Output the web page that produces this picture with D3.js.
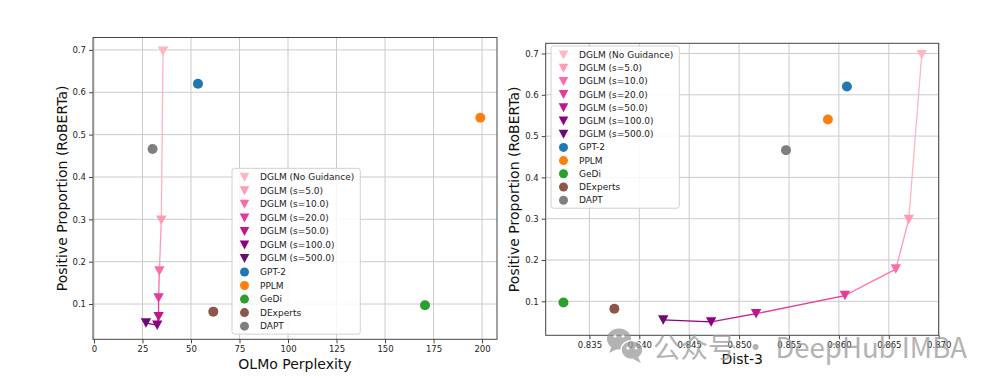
<!DOCTYPE html>
<html><head><meta charset="utf-8">
<script src="https://cdn.jsdelivr.net/npm/d3@7"></script>
<style>
html,body{margin:0;padding:0;background:#fff;}
svg{display:block;font-family:"DejaVu Sans",sans-serif;}
</style></head>
<body><svg id="chart" width="997" height="388"></svg>
<script>
// ---- data ----
const dglmLabels = ['DGLM (No Guidance)','DGLM (s=5.0)','DGLM (s=10.0)','DGLM (s=20.0)','DGLM (s=50.0)','DGLM (s=100.0)','DGLM (s=500.0)'];
const dglmColors = ['#ffb6c1','#ff9bb6','#ff6aaa','#e6399b','#c0168a','#8e0082','#6a0a73'];
const dglmPerplexity = [35.6, 34.7, 33.7, 33.3, 33.3, 32.6, 26.8];
const dglmDist3 = [0.8683, 0.8670, 0.8657, 0.8606, 0.8517, 0.8472, 0.8424];
const dglmPositive = [0.697, 0.298, 0.178, 0.114, 0.070, 0.050, 0.055];

const baseLabels = ['GPT-2','PPLM','GeDi','DExperts','DAPT'];
const baseColors = ['#1f77b4','#ff7f0e','#2ca02c','#8c564b','#7f7f7f'];
const basePerplexity = [53.6, 199.1, 170.6, 61.5, 30.2];
const baseDist3 = [0.8608, 0.8589, 0.8324, 0.8375, 0.8547];
const basePositive = [0.620, 0.540, 0.097, 0.082, 0.466];

const yTicks = [0.1,0.2,0.3,0.4,0.5,0.6,0.7];
const xTicksLeft = [0,25,50,75,100,125,150,175,200];
const xTicksRight = [0.835,0.840,0.845,0.850,0.855,0.860,0.865,0.870];

const svg = d3.select('#chart');
const tri = (w,h)=>`M${-w},${-h/2}L${w},${-h/2}L0,${h/2}Z`;

function panel(cfg){
  const g = svg.append('g');
  const x = d3.scaleLinear().domain(cfg.xDomain).range([cfg.left, cfg.right]);
  const y = d3.scaleLinear().domain(cfg.yDomain).range([cfg.bottom, cfg.top]);
  // grid
  g.append('g').selectAll('line').data(cfg.xTicks).join('line')
    .attr('x1',d=>x(d)).attr('x2',d=>x(d)).attr('y1',cfg.top).attr('y2',cfg.bottom)
    .attr('stroke','#cbcbcb').attr('stroke-width',1);
  g.append('g').selectAll('line').data(yTicks).join('line')
    .attr('y1',d=>y(d)).attr('y2',d=>y(d)).attr('x1',cfg.left).attr('x2',cfg.right)
    .attr('stroke','#cbcbcb').attr('stroke-width',1);
  // axes
  const xa = g.append('g').attr('transform',`translate(0,${cfg.bottom})`)
    .call(d3.axisBottom(x).tickValues(cfg.xTicks).tickFormat(cfg.xFmt).tickSize(4).tickPadding(3));
  const ya = g.append('g').attr('transform',`translate(${cfg.left},0)`)
    .call(d3.axisLeft(y).tickValues(yTicks).tickFormat(d3.format('.1f')).tickSize(4).tickPadding(3));
  [xa,ya].forEach(a=>{
    a.select('.domain').remove();
    a.selectAll('line').attr('stroke','#444');
    a.selectAll('text').attr('font-size','8.5px').attr('fill','#222').attr('font-family','"DejaVu Sans",sans-serif');
  });
  g.append('rect').attr('x',cfg.left).attr('y',cfg.top).attr('width',cfg.right-cfg.left).attr('height',cfg.bottom-cfg.top)
    .attr('fill','none').attr('stroke','#444').attr('stroke-width',1);
  // labels
  g.append('text').attr('x',(cfg.left+cfg.right)/2).attr('y',cfg.xLabelY).attr('text-anchor','middle')
    .attr('font-size','14px').attr('fill','#111').text(cfg.xLabel);
  g.append('text').attr('transform',`translate(${cfg.yLabelX},${(cfg.top+cfg.bottom)/2}) rotate(-90)`)
    .attr('text-anchor','middle').attr('dominant-baseline','central').attr('font-size','14px').attr('fill','#111')
    .text('Positive Proportion (RoBERTa)');
  // DGLM line segments
  const xs = cfg.dglmX;
  for(let i=0;i<xs.length-1;i++){
    g.append('line').attr('x1',x(xs[i])).attr('y1',y(dglmPositive[i]))
      .attr('x2',x(xs[i+1])).attr('y2',y(dglmPositive[i+1]))
      .attr('stroke',dglmColors[i]).attr('stroke-width',1.3);
  }
  g.append('g').selectAll('path').data(d3.range(xs.length)).join('path')
    .attr('d',tri(5.2,9.5)).attr('fill',i=>dglmColors[i])
    .attr('transform',i=>`translate(${x(xs[i])},${y(dglmPositive[i])})`);
  g.append('g').selectAll('circle').data(d3.range(baseLabels.length)).join('circle')
    .attr('cx',i=>x(cfg.baseX[i])).attr('cy',i=>y(basePositive[i])).attr('r',5)
    .attr('fill',i=>baseColors[i]);
  // legend
  const lg = g.append('g');
  const items = dglmLabels.map((l,i)=>({l,c:dglmColors[i],t:'tri'}))
    .concat(baseLabels.map((l,i)=>({l,c:baseColors[i],t:'circ'})));
  const box = lg.append('rect').attr('fill','#fff').attr('fill-opacity',0.85)
    .attr('stroke','#d0d0d0').attr('rx',2.5);
  let maxW = 0;
  items.forEach((it,i)=>{
    const yy = cfg.legY0 + i*cfg.legStep;
    if(it.t==='tri') lg.append('path').attr('d',tri(4.8,9)).attr('fill',it.c).attr('transform',`translate(${cfg.legX+12.5},${yy})`);
    else lg.append('circle').attr('cx',cfg.legX+12.5).attr('cy',yy).attr('r',4.5).attr('fill',it.c);
    const t = lg.append('text').attr('x',cfg.legX+28).attr('y',yy).attr('dominant-baseline','central')
      .attr('font-size','9px').attr('fill','#222').text(it.l);
    maxW = Math.max(maxW, t.node().getComputedTextLength());
  });
  box.attr('x',cfg.legX).attr('y',cfg.legY0-9).attr('width',28+maxW+6)
    .attr('height',(items.length-1)*cfg.legStep+17);
}

panel({left:93,right:497,top:37.5,bottom:339.3,
  xDomain:[-0.5,207.7], yDomain:[0.0167,0.7293],
  xTicks:xTicksLeft, xFmt:d3.format('d'), xLabel:'OLMo Perplexity', xLabelY:369, yLabelX:62,
  dglmX:dglmPerplexity, baseX:basePerplexity,
  legX:232, legY0:177.3, legStep:13.53});

panel({left:545.7,right:938.7,top:43.3,bottom:335.3,
  xDomain:[0.83062,0.8700], yDomain:[0.0177,0.7247],
  xTicks:xTicksRight, xFmt:d3.format('.3f'), xLabel:'Dist-3', xLabelY:364, yLabelX:514,
  dglmX:dglmDist3, baseX:baseDist3,
  legX:551, legY0:55, legStep:13.2});

// watermark
const wm = svg.append('g').attr('opacity',0.75);
wm.append('ellipse').attr('cx',619).attr('cy',339).attr('rx',12).attr('ry',10.5).attr('fill','#9a9a9a');
wm.append('ellipse').attr('cx',632).attr('cy',350).attr('rx',11).attr('ry',9.5).attr('fill','#9a9a9a').attr('stroke','#fff').attr('stroke-width',1.5);
wm.append('path').attr('d','M612,346 L609,353 L617,349Z').attr('fill','#9a9a9a');
wm.append('path').attr('d','M638,357 L641,363 L633,359Z').attr('fill','#9a9a9a');
[[615,336],[623,336],[628,348],[636,348]].forEach(p=>wm.append('circle').attr('cx',p[0]).attr('cy',p[1]).attr('r',1.6).attr('fill','#fff'));
wm.append('text').attr('x',653).attr('y',358).attr('font-size','28px')
  .attr('font-family','"Noto Sans CJK SC","Noto Sans",sans-serif').attr('fill','#9a9a9a')
  .attr('textLength',314).attr('lengthAdjust','spacingAndGlyphs')
  .text('公众号 · DeepHub IMBA');
</script></body></html>
